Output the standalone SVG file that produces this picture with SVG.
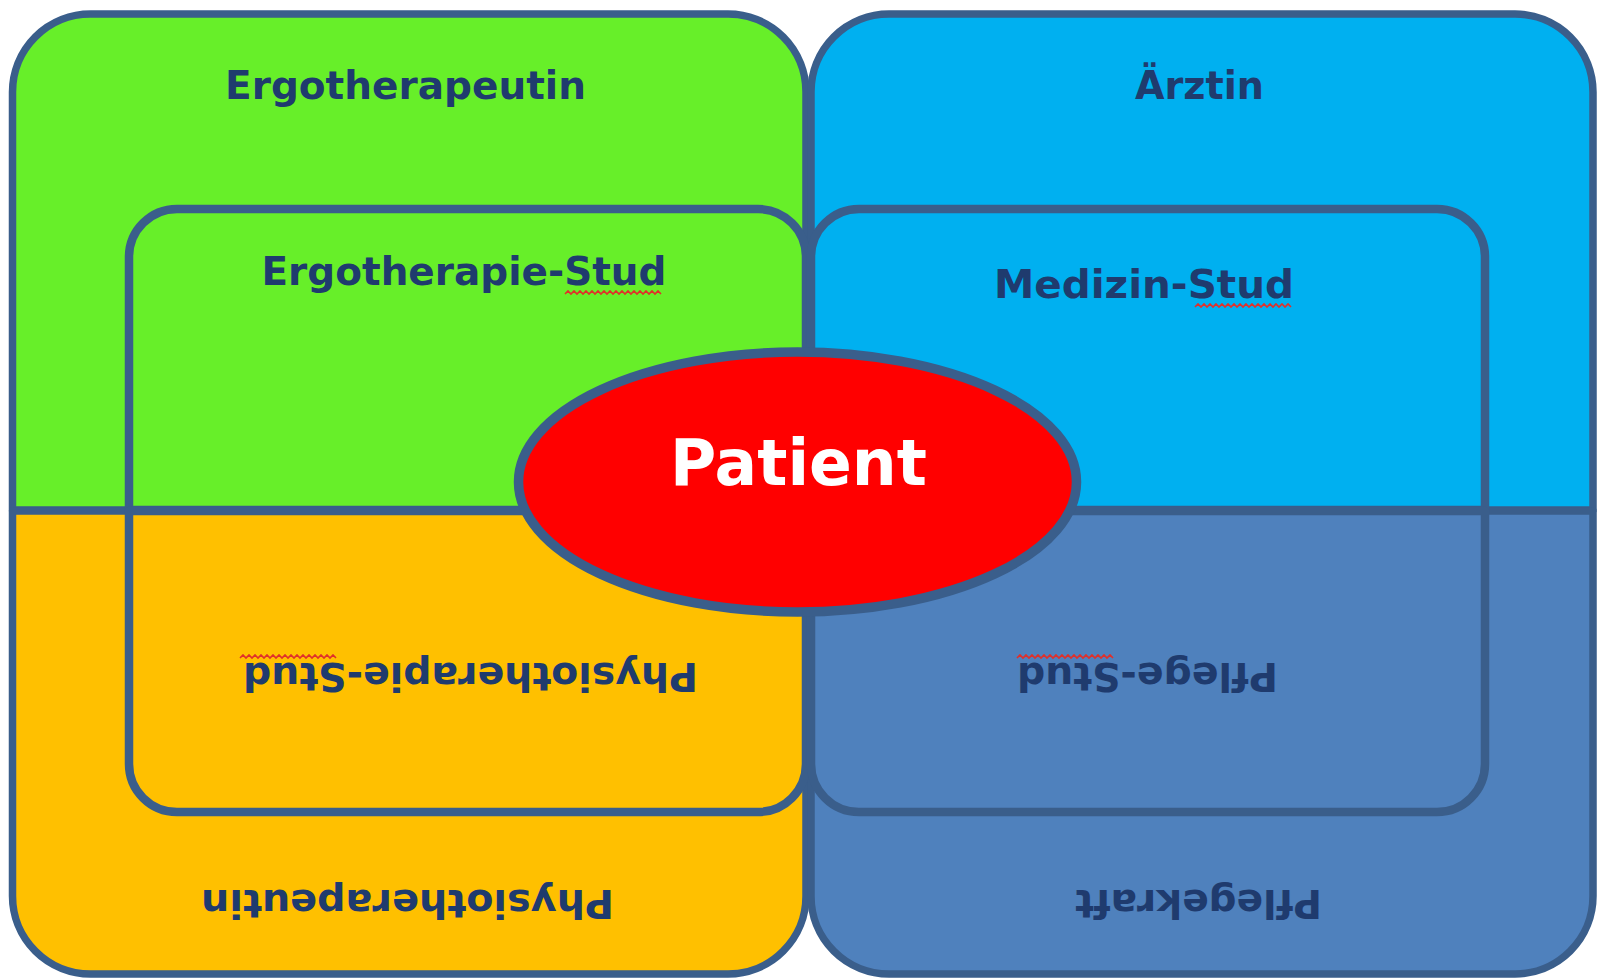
<svg xmlns="http://www.w3.org/2000/svg" width="1598" height="978" viewBox="0 0 1598 978">
<style>
.outer{stroke:#3A5E8B;stroke-width:7.5;stroke-linejoin:round}
.inner{stroke:#3A5E8B;stroke-width:8.5;stroke-linejoin:round}
.green{fill:#67EF29}
.blue{fill:#00B0F0}
.yellow{fill:#FFC000}
.steel{fill:#4F81BD}
.lbl{font-family:"DejaVu Sans","Liberation Sans",sans-serif;font-weight:bold;font-size:39px;fill:#1F3B6E;text-anchor:middle;font-variant-ligatures:none}
.pat{font-family:"DejaVu Sans","Liberation Sans",sans-serif;font-weight:bold;font-size:64px;fill:#FFFFFF;text-anchor:middle}
.squig{fill:none;stroke:#E0302A;stroke-width:1.6}
</style>
<rect width="1598" height="978" fill="#FFFFFF"/>
<g id="ergotherapeutin">
<path class="outer green" d="M12.5,510 V92 A78,78 0 0 1 90.5,14 H728 A78,78 0 0 1 806,92 V510 Z"/>
<text class="lbl" x="405.5" y="99" textLength="361" lengthAdjust="spacingAndGlyphs">Ergotherapeutin</text>
</g>
<g id="aerztin">
<path class="outer blue" d="M811,510 V92 A78,78 0 0 1 889,14 H1515 A78,78 0 0 1 1593,92 V510 Z"/>
<text class="lbl" x="1199.5" y="99" textLength="129" lengthAdjust="spacingAndGlyphs">Ärztin</text>
</g>
<g id="physiotherapeutin">
<path class="outer yellow" d="M12.5,511 V896 A78,78 0 0 0 90.5,974 H728 A78,78 0 0 0 806,896 V511 Z"/>
<text class="lbl" x="407.5" y="890" textLength="413" lengthAdjust="spacingAndGlyphs" transform="rotate(180 407.5 890)">Physiotherapeutin</text>
</g>
<g id="pflegekraft">
<path class="outer steel" d="M811,511 V896 A78,78 0 0 0 889,974 H1515 A78,78 0 0 0 1593,896 V511 Z"/>
<text class="lbl" x="1198.5" y="890" textLength="247" lengthAdjust="spacingAndGlyphs" transform="rotate(180 1198.5 890)">Pflegekraft</text>
</g>
<g id="ergotherapie-stud">
<path class="inner green" d="M129,510 V257 A48,48 0 0 1 177,209 H758 A48,48 0 0 1 806,257 V510 Z"/>
<text class="lbl" x="464" y="285" textLength="405" lengthAdjust="spacingAndGlyphs">Ergotherapie-Stud</text>
<path class="squig" d="M565,294 l3,-3 3,3 3,-3 3,3 3,-3 3,3 3,-3 3,3 3,-3 3,3 3,-3 3,3 3,-3 3,3 3,-3 3,3 3,-3 3,3 3,-3 3,3 3,-3 3,3 3,-3 3,3 3,-3 3,3 3,-3 3,3 3,-3 3,3 3,-3 3,3"/>
</g>
<g id="medizin-stud">
<path class="inner blue" d="M811,510 V257 A48,48 0 0 1 859,209 H1437 A48,48 0 0 1 1485,257 V510 Z"/>
<text class="lbl" x="1144" y="298" textLength="300" lengthAdjust="spacingAndGlyphs">Medizin-Stud</text>
<path class="squig" d="M1195,307 l3,-3 3,3 3,-3 3,3 3,-3 3,3 3,-3 3,3 3,-3 3,3 3,-3 3,3 3,-3 3,3 3,-3 3,3 3,-3 3,3 3,-3 3,3 3,-3 3,3 3,-3 3,3 3,-3 3,3 3,-3 3,3 3,-3 3,3 3,-3 3,3"/>
</g>
<g id="physiotherapie-stud">
<path class="inner yellow" d="M129,511 V764 A48,48 0 0 0 177,812 H758 A48,48 0 0 0 806,764 V511 Z"/>
<text class="lbl" x="470.5" y="663" textLength="455" lengthAdjust="spacingAndGlyphs" transform="rotate(180 470.5 663)">Physiotherapie-Stud</text>
<path class="squig" d="M240,658 l3,-3 3,3 3,-3 3,3 3,-3 3,3 3,-3 3,3 3,-3 3,3 3,-3 3,3 3,-3 3,3 3,-3 3,3 3,-3 3,3 3,-3 3,3 3,-3 3,3 3,-3 3,3 3,-3 3,3 3,-3 3,3 3,-3 3,3 3,-3 3,3"/>
</g>
<g id="pflege-stud">
<path class="inner steel" d="M811,511 V764 A48,48 0 0 0 859,812 H1437 A48,48 0 0 0 1485,764 V511 Z"/>
<text class="lbl" x="1147.5" y="663" textLength="261" lengthAdjust="spacingAndGlyphs" transform="rotate(180 1147.5 663)">Pflege-Stud</text>
<path class="squig" d="M1017,658 l3,-3 3,3 3,-3 3,3 3,-3 3,3 3,-3 3,3 3,-3 3,3 3,-3 3,3 3,-3 3,3 3,-3 3,3 3,-3 3,3 3,-3 3,3 3,-3 3,3 3,-3 3,3 3,-3 3,3 3,-3 3,3 3,-3 3,3 3,-3 3,3"/>
</g>
<g id="patient">
<ellipse cx="797.5" cy="482" rx="279" ry="130" fill="#FF0000" stroke="#3A5E8B" stroke-width="9.5"/>
<text class="pat" x="798.5" y="485" textLength="257" lengthAdjust="spacingAndGlyphs">Patient</text>
</g>
</svg>
